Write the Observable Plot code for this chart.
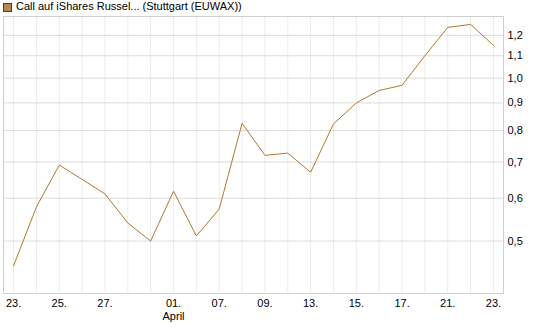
<!DOCTYPE html>
<html>
<head>
<meta charset="utf-8">
<script src="https://cdn.jsdelivr.net/npm/d3@7"></script>
<script src="https://cdn.jsdelivr.net/npm/@observablehq/plot@0.6"></script>
<style>
  body { margin: 0; background: #fff; font-family: "Liberation Sans", Arial, sans-serif; }
  #title { height: 15px; font-size: 11px; color: #000; position: relative; white-space: nowrap; }
  #title .sw { position: absolute; left: 3px; top: 3px; width: 7px; height: 7px; background: #b58a52; border: 1px solid #4a3a28; }
  #title .tx { position: absolute; left: 16px; top: 0px; line-height: 13px; }
  svg { display: block; }
</style>
</head>
<body>
<div id="title"><span class="sw"></span><span class="tx">Call auf iShares Russel... (Stuttgart (EUWAX))</span></div>
<div id="chart"></div>
<script>
const title = "Call auf iShares Russel... (Stuttgart (EUWAX))";
const dayLabels = ["23.", "", "25.", "", "27.", "", "", "01.\nApril", "", "07.", "", "09.", "", "13.", "", "15.", "", "17.", "", "21.", "", "23."];
const values = [0.450, 0.578, 0.691, 0.650, 0.611, 0.540, 0.500, 0.618, 0.511, 0.573, 0.825, 0.720, 0.727, 0.670, 0.823, 0.900, 0.949, 0.970, 1.10, 1.241, 1.257, 1.15];
const yTicks = [0.5, 0.6, 0.7, 0.8, 0.9, 1.0, 1.1, 1.2];

const data = values.map((v, i) => ({i, v}));
const idx = values.map((_, i) => i);
const labeled = idx.filter(i => dayLabels[i] !== "");

const chart = Plot.plot({
  width: 545,
  height: 312,
  marginTop: 1,
  marginBottom: 34,
  marginLeft: 3,
  marginRight: 42,
  style: {fontFamily: "'Liberation Sans', Arial, sans-serif", fontSize: "11px", color: "#000", background: "#fff", overflow: "visible"},
  x: {type: "point", domain: idx, padding: 0.44, round: false},
  y: {type: "log", domain: [0.4, 1.3]},
  marks: [
    Plot.gridX(idx, {stroke: "#ececec", strokeOpacity: 1}),
    Plot.gridY(yTicks, {stroke: "#dcdcdc", strokeOpacity: 1}),
    Plot.frame({stroke: "#d0d0d0"}),
    Plot.axisX(labeled, {tickSize: 0, tickPadding: 5, tickFormat: i => dayLabels[i], lineHeight: 1.15, fill: "#000", label: null}),
    Plot.axisY(yTicks, {anchor: "right", tickSize: 0, tickPadding: 4, tickFormat: d => d.toFixed(1).replace(".", ","), fill: "#000", label: null}),
    Plot.line(data, {x: "i", y: "v", stroke: "#b07a30", strokeWidth: 1})
  ]
});
document.getElementById("chart").appendChild(chart);
</script>
</body>
</html>
